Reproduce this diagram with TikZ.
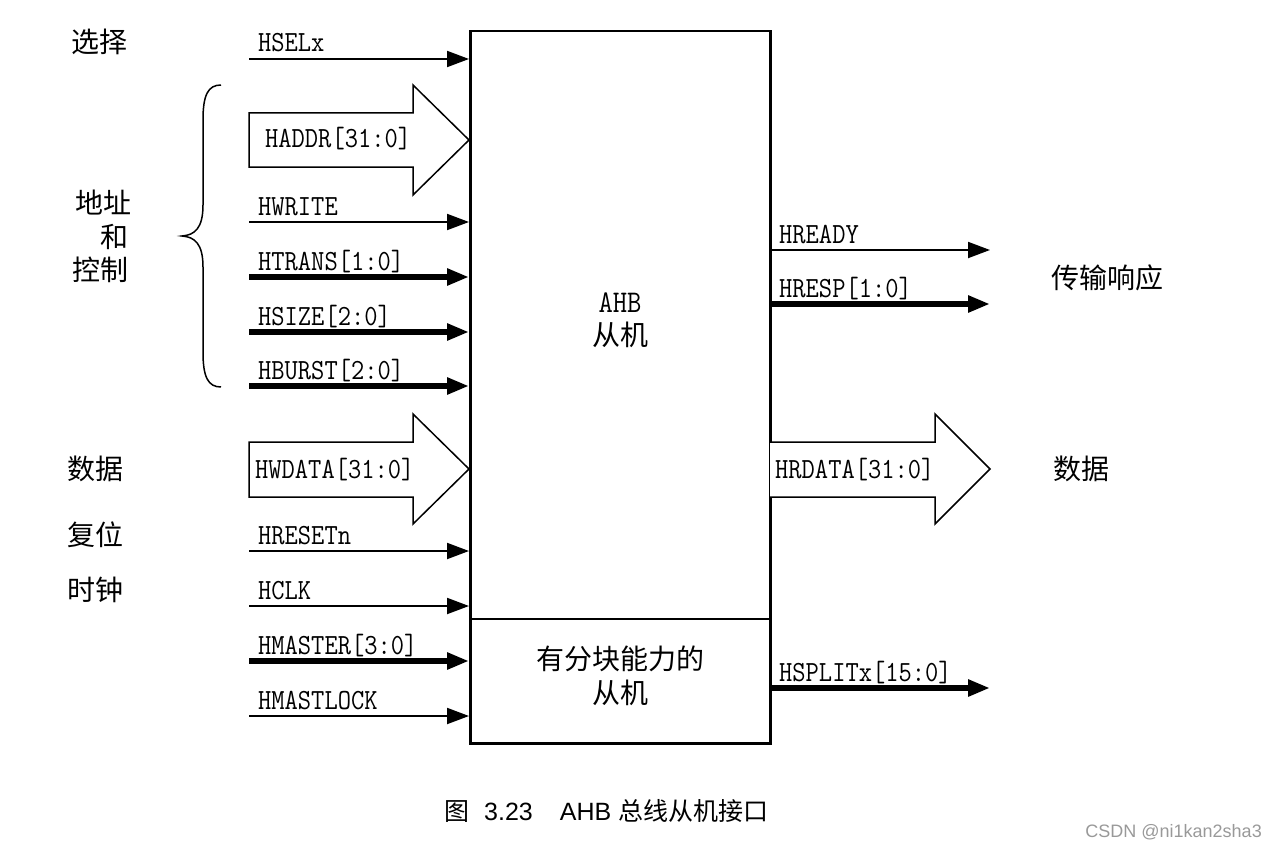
\documentclass[tikz,border=0pt]{standalone}
\usepackage{fontspec}
\newfontfamily\cjk{Noto Sans CJK SC}
\newfontfamily\arialf{Liberation Sans}
\usetikzlibrary{arrows.meta}
\newcommand\sigtxt[1]{\scalebox{1.03}[1.17]{#1}}
\begin{document}
\begin{tikzpicture}[x=1pt,y=-1pt,
  sig/.style={line width=2pt,-{Triangle[length=22pt,width=16pt]}},
  bus/.style={line width=6pt,-{Triangle[length=22pt,width=16pt]}},
  lbl/.style={anchor=base west,inner sep=0pt,font=\fontsize{25}{30}\selectfont\ttfamily},
  cn/.style={inner sep=0pt,font=\fontsize{28}{34}\selectfont\cjk},
  fat/.style={draw,line width=1.5pt,line join=miter,fill=white},
]
\useasboundingbox (0,0) rectangle (1274,848);

% main box
\node[draw,line width=2.5pt,minimum width=300pt,minimum height=712pt,anchor=north west,inner sep=0pt] (box) at (469,30) {};
\coordinate (div) at (469,619);
\draw[line width=1.5pt] (div) -- (div -| box.east);

\node[inner sep=0pt,font=\fontsize{27}{32}\selectfont\ttfamily] (ahb) at (620,303) {\sigtxt{AHB}};
\node[cn] (cj) at (620,335) {从机};
\node[cn] (split1) at (620,659) {有分块能力的};
\node[cn] (split2) at (620,693) {从机};

% left inputs
\coordinate (hsel) at (249,59);
\draw[sig] (hsel) -- (hsel -| box.west);
\node[lbl] (lhsel) at (258,52) {\sigtxt{HSELx}};

\draw[fat] (249,113) -- (413,113) -- (413,85) -- (469,140) -- (413,195) -- (413,167) -- (249,167) -- cycle;
\node[lbl] (lhaddr) at (265,148) {\sigtxt{HADDR[31:0]}};

\coordinate (hwrite) at (249,222);
\draw[sig] (hwrite) -- (hwrite -| box.west);
\node[lbl] (lhwrite) at (258,215) {\sigtxt{HWRITE}};

\coordinate (htrans) at (249,277);
\draw[bus] (htrans) -- (htrans -| box.west);
\node[lbl] (lhtrans) at (258,270) {\sigtxt{HTRANS[1:0]}};

\coordinate (hsize) at (249,332);
\draw[bus] (hsize) -- (hsize -| box.west);
\node[lbl] (lhsize) at (258,325) {\sigtxt{HSIZE[2:0]}};

\coordinate (hburst) at (249,386);
\draw[bus] (hburst) -- (hburst -| box.west);
\node[lbl] (lhburst) at (258,379) {\sigtxt{HBURST[2:0]}};

\draw[fat] (249,442) -- (413,442) -- (413,414) -- (469,469) -- (413,524) -- (413,497) -- (249,497) -- cycle;
\node[lbl] (lhwdata) at (255,478) {\sigtxt{HWDATA[31:0]}};

\coordinate (hreset) at (249,551);
\draw[sig] (hreset) -- (hreset -| box.west);
\node[lbl] (lhreset) at (258,544) {\sigtxt{HRESETn}};

\coordinate (hclk) at (249,606);
\draw[sig] (hclk) -- (hclk -| box.west);
\node[lbl] (lhclk) at (258,599) {\sigtxt{HCLK}};

\coordinate (hmaster) at (249,661);
\draw[bus] (hmaster) -- (hmaster -| box.west);
\node[lbl] (lhmaster) at (258,654) {\sigtxt{HMASTER[3:0]}};

\coordinate (hmlock) at (249,716);
\draw[sig] (hmlock) -- (hmlock -| box.west);
\node[lbl] (lhmlock) at (258,709) {\sigtxt{HMASTLOCK}};

% right outputs
\coordinate (hready) at (990,250);
\draw[sig] (hready -| box.east) -- (hready);
\node[lbl] (lhready) at (779,243) {\sigtxt{HREADY}};

\coordinate (hresp) at (990,304);
\draw[bus] (hresp -| box.east) -- (hresp);
\node[lbl] (lhresp) at (779,297) {\sigtxt{HRESP[1:0]}};

\draw[fat] (770,442) -- (935,442) -- (935,414) -- (990,469) -- (935,524) -- (935,497) -- (770,497);
\node[lbl] (lhrdata) at (775,478) {\sigtxt{HRDATA[31:0]}};

\coordinate (hsplit) at (990,688);
\draw[bus] (hsplit -| box.east) -- (hsplit);
\node[lbl] (lhsplit) at (779,681) {\sigtxt{HSPLITx[15:0]}};

% brace
\draw[line width=1.5pt] (221,85) .. controls (208,85) and (203,95) .. (203,120) -- (203,205)
  .. controls (203,228) and (195,235) .. (182,236)
  .. controls (195,237) and (203,244) .. (203,267) -- (203,352)
  .. controls (203,377) and (208,387) .. (221,387);

% chinese side labels
\node[cn] (xz) at (99,42) {选择};
\node[cn,anchor=east] (dz) at (132,203) {地址};
\node[cn,anchor=east] (he) at (129,237) {和};
\node[cn,anchor=east] (kz) at (129,270) {控制};
\node[cn] (sj1) at (95,469) {数据};
\node[cn] (fw) at (95,535) {复位};
\node[cn] (sz) at (95,590) {时钟};
\node[cn] (cs) at (1107,278) {传输响应};
\node[cn] (sj2) at (1081,469) {数据};

% caption
\node[anchor=west,inner sep=0pt,font=\fontsize{25}{30}\selectfont\arialf] (cap) at (444,811)
  {{\cjk 图}\hspace{15pt}3.23\hspace{27pt}AHB {\cjk 总线从机接口}};

\node[anchor=east,inner sep=0pt,text=gray!80,font=\fontsize{18}{22}\selectfont\arialf] (wm) at (1262,832) {CSDN @ni1kan2sha3};
\end{tikzpicture}
\end{document}
